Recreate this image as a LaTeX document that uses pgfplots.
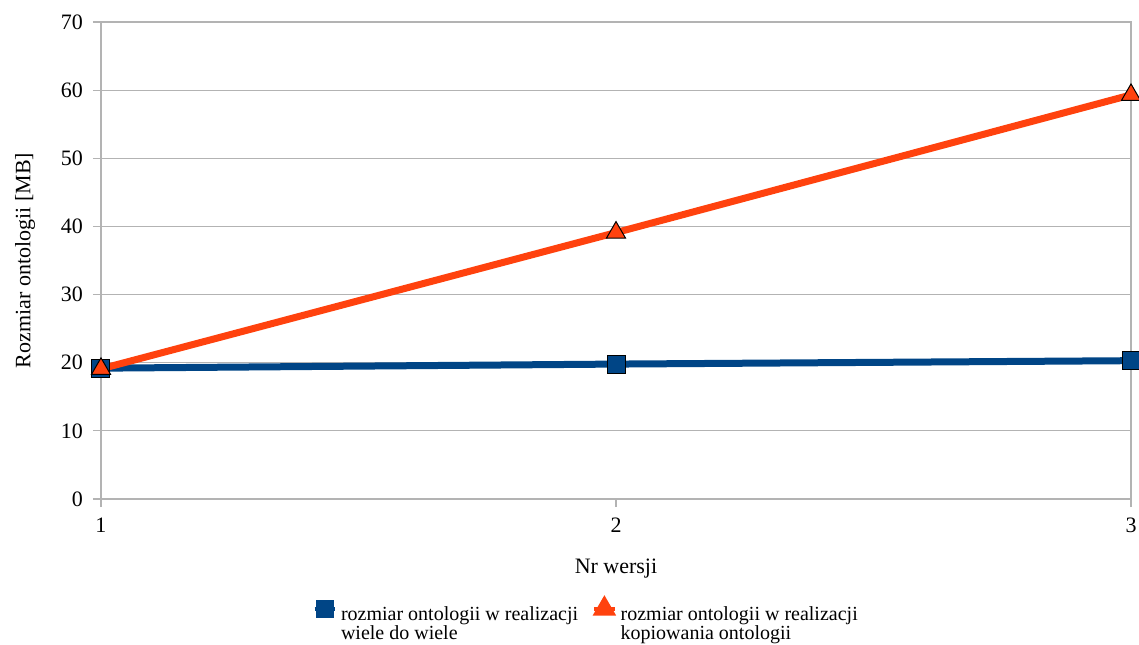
\documentclass[border=0pt]{standalone}
\usepackage{fontspec}
\setmainfont{Liberation Serif}
\usepackage{pgfplots}
\pgfplotsset{compat=1.18}
\definecolor{loblue}{RGB}{0,69,134}
\definecolor{loorange}{RGB}{255,66,14}
\definecolor{gridgray}{RGB}{179,179,179}

\begin{document}
\begin{tikzpicture}
\begin{axis}[
    scale only axis,
    width=515pt, height=238.5pt,
    xmin=1, xmax=3, ymin=0, ymax=70,
    xtick={1,2,3}, ytick={0,10,...,70},
    font=\fontsize{11}{13}\selectfont,
    /pgf/number format/assume math mode=true,
    ymajorgrids=true,
    major grid style={gridgray, line width=0.6pt},
    axis line style={gridgray, line width=0.6pt},
    tick pos=left,
    tick style={gridgray, line width=0.6pt},
    tick align=outside, major tick length=4pt,
    xticklabel style={yshift=-2pt},
    yticklabel style={xshift=-1.5pt},
    xlabel={Nr wersji},
    xlabel style={yshift=-6pt},
    ylabel={Rozmiar ontologii [MB]},
    ylabel style={yshift=6pt},
    clip=false,
    legend style={at={(0.472,-0.215)}, anchor=north, draw=none, legend columns=2,
        font=\fontsize{10}{9.5}\selectfont,
        inner sep=0pt,
        cells={align=left, anchor=north west},
        /tikz/every odd column/.append style={column sep=0pt},
        /tikz/every even column/.append style={column sep=5pt}},
    legend image code/.code={
        \draw[#1, mark=none, line width=2pt] (0cm,-0.12cm) -- (0.36cm,-0.12cm);
        \draw[#1, only marks, mark options={scale=0.6}] plot coordinates {(0.18cm,-0.12cm)};
    },
]
\addplot[loblue, line width=3.5pt, mark=square*, mark size=4.5pt,
    mark options={fill=loblue, draw=black, line width=0.5pt, solid}]
coordinates {
    (1, 19.2)
    (2, 19.8)
    (3, 20.3)
};
\addplot[loorange, line width=3.5pt, mark=triangle*, mark size=5.5pt,
    mark options={fill=loorange, draw=black, line width=0.5pt, solid}]
coordinates {
    (1, 19.1)
    (2, 39.1)
    (3, 59.3)
};
\legend{rozmiar ontologii w realizacji\\wiele do wiele, rozmiar ontologii w realizacji\\kopiowania ontologii}
\end{axis}
\pgfresetboundingbox
\useasboundingbox ([xshift=-50.5pt, yshift=-72.5pt]current axis.south west) rectangle ([xshift=4pt, yshift=11pt]current axis.north east);
\end{tikzpicture}
\end{document}
